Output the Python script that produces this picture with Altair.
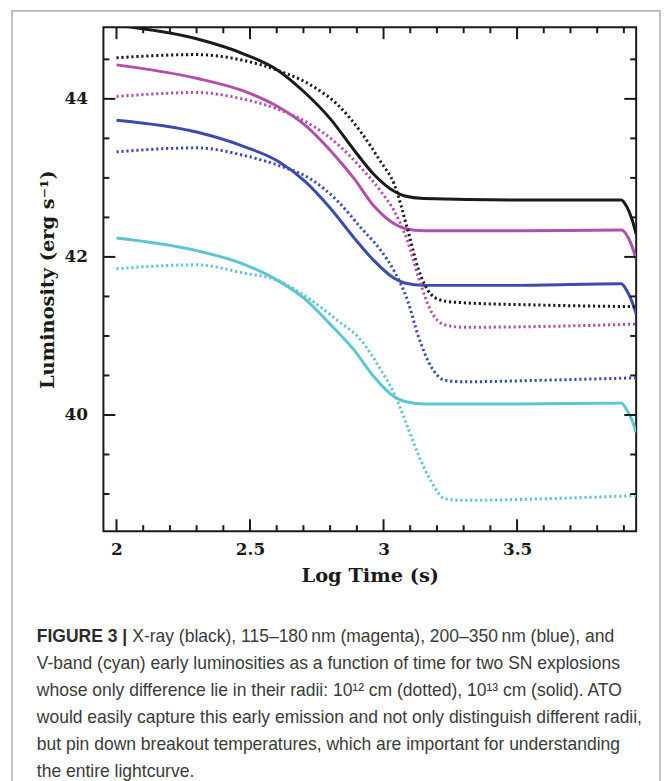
import altair as alt
import pandas as pd

# ---- data ----
x_solid = [2.0, 2.3, 2.475, 2.605, 2.705, 2.80, 2.89, 2.965, 3.04, 3.08, 3.15, 3.5, 3.89, 3.91, 3.93, 3.946]
xray_solid = [44.93, 44.76, 44.57, 44.36, 44.08, 43.75, 43.35, 43.04, 42.83, 42.77, 42.74, 42.72, 42.72, 42.64, 42.48, 42.29]
magenta_solid = [44.43, 44.26, 44.10, 43.90, 43.67, 43.35, 42.99, 42.64, 42.42, 42.36, 42.33, 42.33, 42.34, 42.28, 42.14, 41.97]
blue_solid = [43.73, 43.58, 43.40, 43.21, 42.96, 42.62, 42.24, 41.95, 41.73, 41.67, 41.64, 41.64, 41.66, 41.58, 41.44, 41.28]
cyan_solid = [42.24, 42.08, 41.91, 41.70, 41.47, 41.15, 40.82, 40.48, 40.23, 40.17, 40.14, 40.14, 40.15, 40.07, 39.94, 39.78]

x_dotted = [2.0, 2.3, 2.47, 2.605, 2.73, 2.83, 2.915, 2.99, 3.04, 3.09, 3.13, 3.18, 3.23, 3.3, 3.6, 3.946]
xray_dotted = [44.52, 44.56, 44.49, 44.36, 44.17, 43.92, 43.58, 43.20, 42.92, 42.35, 41.85, 41.52, 41.44, 41.42, 41.39, 41.37]
magenta_dotted = [44.03, 44.08, 44.00, 43.87, 43.67, 43.42, 43.13, 42.83, 42.58, 42.20, 41.75, 41.30, 41.14, 41.11, 41.12, 41.15]
blue_dotted = [43.33, 43.38, 43.29, 43.16, 42.98, 42.70, 42.37, 42.08, 41.82, 41.45, 41.00, 40.60, 40.44, 40.42, 40.44, 40.47]
cyan_dotted = [41.85, 41.90, 41.80, 41.70, 41.45, 41.19, 40.95, 40.57, 40.27, 39.85, 39.50, 39.15, 38.94, 38.92, 38.94, 38.98]

bands = ["X-ray", "115-180 nm", "200-350 nm", "V-band"]
band_colors = ["#1a1a1a", "#b24fab", "#3a4dab", "#5bc6cf"]

x_major_ticks = [2, 2.5, 3, 3.5]
x_minor_ticks = [2.1, 2.2, 2.3, 2.4, 2.6, 2.7, 2.8, 2.9, 3.1, 3.2, 3.3, 3.4, 3.6, 3.7, 3.8, 3.9]
y_major_ticks = [40, 42, 44]
y_minor_ticks = [39, 39.5, 40.5, 41, 41.5, 42.5, 43, 43.5, 44.5]

x_title = "Log Time (s)"
y_title = "Luminosity (erg s\u207b\u00b9)"

caption_bold = "FIGURE 3 |"
caption_lines = [
    "X-ray (black), 115\u2013180\u2009nm (magenta), 200\u2013350\u2009nm (blue), and",
    "V-band (cyan) early luminosities as a function of time for two SN explosions",
    "whose only difference lie in their radii: 10\u00b9\u00b2 cm (dotted), 10\u00b9\u00b3 cm (solid). ATO",
    "would easily capture this early emission and not only distinguish different radii,",
    "but pin down breakout temperatures, which are important for understanding",
    "the entire lightcurve.",
]

# ---- build tables ----
rows = []
for b, ys in zip(bands, [xray_solid, magenta_solid, blue_solid, cyan_solid]):
    for xv, yv in zip(x_solid, ys):
        rows.append({"t": xv, "L": yv, "band": b, "radius": "1e13 cm"})
solid_df = pd.DataFrame(rows)
rows = []
for b, ys in zip(bands, [xray_dotted, magenta_dotted, blue_dotted, cyan_dotted]):
    for xv, yv in zip(x_dotted, ys):
        rows.append({"t": xv, "L": yv, "band": b, "radius": "1e12 cm"})
dotted_df = pd.DataFrame(rows)

W, H = 536, 507
XD = [1.951, 3.946]
YD = [38.53, 44.906]
FONT = "DejaVu Serif"

xs = alt.Scale(domain=XD, nice=False, zero=False)
ys_ = alt.Scale(domain=YD, nice=False, zero=False)
color = alt.Color("band:N", scale=alt.Scale(domain=bands, range=band_colors), legend=None)

x_axis = alt.Axis(values=x_major_ticks, format="~g", title=x_title, ticks=False, tickSize=0,
                  domain=False, grid=False, labelPadding=18, labelBaseline="middle",
                  labelFont=FONT, labelFontWeight="bold", labelFontSize=17, labelColor="#1a1a1a",
                  titleFont=FONT, titleFontWeight="bold", titleFontSize=19.5, titleColor="#1a1a1a",
                  titleX=W / 2, titleY=45, titleBaseline="middle", titleAlign="center")
y_axis = alt.Axis(values=y_major_ticks, format="d", title=y_title, ticks=False, tickSize=0,
                  domain=False, grid=False, labelPadding=16, labelBaseline="middle",
                  labelFont=FONT, labelFontWeight="bold", labelFontSize=17, labelColor="#1a1a1a",
                  titleFont=FONT, titleFontWeight="bold", titleFontSize=19.5, titleColor="#1a1a1a",
                  titleX=-56, titleY=H / 2, titleAngle=270, titleBaseline="middle", titleAlign="center")

solid = alt.Chart(solid_df).mark_line(strokeWidth=3, clip=True, interpolate="monotone").encode(
    x=alt.X("t:Q", scale=xs, axis=x_axis),
    y=alt.Y("L:Q", scale=ys_, axis=y_axis),
    color=color,
    detail="band:N",
)
dotted = alt.Chart(dotted_df).mark_line(strokeWidth=3, clip=True, interpolate="monotone",
                                        strokeDash=[2.2, 2.8]).encode(
    x=alt.X("t:Q", scale=xs),
    y=alt.Y("L:Q", scale=ys_),
    color=color,
    detail="band:N",
)

def xticks(vals, length):
    d = pd.DataFrame({"v": vals})
    base = alt.Chart(d).mark_rule(color="#1a1a1a", strokeWidth=2)
    bot = base.encode(x=alt.X("v:Q", scale=xs), y=alt.value(H), y2=alt.value(H - length))
    top = base.encode(x=alt.X("v:Q", scale=xs), y=alt.value(0), y2=alt.value(length))
    return [bot, top]

def yticks(vals, length):
    d = pd.DataFrame({"v": vals})
    base = alt.Chart(d).mark_rule(color="#1a1a1a", strokeWidth=2)
    left = base.encode(y=alt.Y("v:Q", scale=ys_), x=alt.value(0), x2=alt.value(length))
    right = base.encode(y=alt.Y("v:Q", scale=ys_), x=alt.value(W), x2=alt.value(W - length))
    return [left, right]

tick_layers = xticks(x_major_ticks, 12) + xticks(x_minor_ticks, 6) + yticks(y_major_ticks, 12) + yticks(y_minor_ticks, 6)

# caption
CAP_FONT = "Liberation Sans"
CAP_SIZE = 17.6
cap_layers = []
cap_layers.append(
    alt.Chart(pd.DataFrame({"s": [caption_bold]})).mark_text(
        align="left", baseline="middle", font=CAP_FONT, fontSize=CAP_SIZE, fontWeight="bold", color="#2b2b2b"
    ).encode(x=alt.value(-67), y=alt.value(614), text="s:N")
)
line_y = [614, 641, 668, 695, 722, 749]
for i, line in enumerate(caption_lines):
    cap_layers.append(
        alt.Chart(pd.DataFrame({"s": [line]})).mark_text(
            align="left", baseline="middle", font=CAP_FONT, fontSize=CAP_SIZE, color="#3a3a3a"
        ).encode(x=alt.value(29 if i == 0 else -67), y=alt.value(line_y[i]), text="s:N")
    )

# outer figure border
bd = pd.DataFrame({"k": [0]})
border = [
    alt.Chart(bd).mark_rule(color="#9a9a9a", strokeWidth=1.2).encode(x=alt.value(-92), y=alt.value(-17), y2=alt.value(760)),
    alt.Chart(bd).mark_rule(color="#9a9a9a", strokeWidth=1.2).encode(x=alt.value(560), y=alt.value(-17), y2=alt.value(760)),
    alt.Chart(bd).mark_rule(color="#9a9a9a", strokeWidth=1.2).encode(x=alt.value(-92), x2=alt.value(560), y=alt.value(-16.4)),
]

chart = alt.layer(solid, dotted, *tick_layers, *cap_layers, *border).properties(
    width=W, height=H,
    autosize=alt.AutoSizeParams(type="none"),
    padding={"left": 96, "top": 17, "right": 26, "bottom": 249},
    background="white",
).configure_view(stroke="#1a1a1a", strokeWidth=2)

chart.save("out.html", embed_options={"renderer": "svg", "actions": False})
